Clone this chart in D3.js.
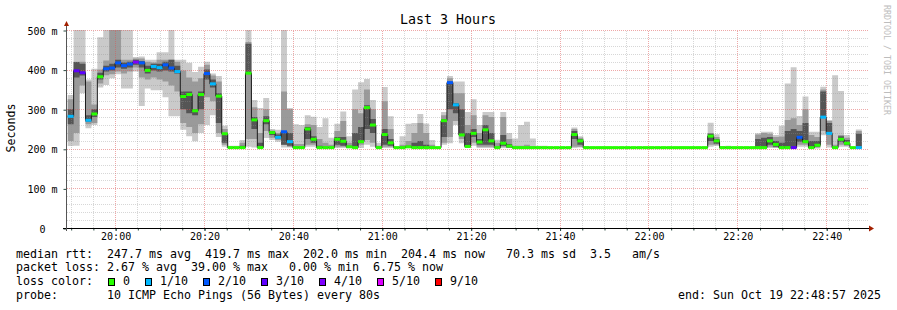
<!DOCTYPE html>
<html>
<head>
<meta charset="utf-8">
<script src="https://cdn.jsdelivr.net/npm/d3@7"></script>
<style>
  body { margin: 0; background: #fff; }
  text { font-family: "DejaVu Sans Mono", monospace; white-space: pre; }
</style>
</head>
<body>
<script>
// time frame of the graph and the 80 s steps of the probe
var graphStart = new Date(2025, 9, 19, 19, 48, 57);
var graphEnd = new Date(2025, 9, 19, 22, 48, 57);
var firstSample = new Date(2025, 9, 19, 19, 49, 20);
var stepSec = 80;

// median rtt per step (ms)
var median = [
  282,397,392,272,288,382,402,404,417,410,
  414,419,417,398,408,405,412,404,395,332,
  337,296,337,390,364,333,238,203,203,203,
  391,273,203,271,241,229,243,218,203,203,
  250,224,203,203,203,224,219,205,203,218,
  304,260,203,236,215,203,203,205,203,203,
  203,203,203,271,367,311,235,206,239,217,
  248,220,203,214,207,203,203,203,203,203,
  203,203,203,203,203,236,220,203,203,203,
  203,203,203,203,203,203,203,203,203,203,
  203,203,203,203,203,203,203,203,232,220,
  203,203,203,203,203,203,203,203,220,211,
  203,203,203,229,218,203,209,280,239,203,
  224,214,203,203
];
// lost pings out of 10 per step
var loss = [
  1,3,3,1,0,0,2,2,2,2,
  2,4,2,0,1,1,2,2,1,0,
  0,0,0,2,1,0,0,0,0,0,
  0,0,0,0,0,1,2,1,0,0,
  0,0,0,0,0,0,0,0,0,0,
  0,0,0,0,0,0,0,0,0,0,
  0,0,0,0,2,1,0,0,0,0,
  0,0,0,0,0,0,0,0,0,0,
  0,0,0,0,0,0,0,0,0,0,
  0,0,0,0,0,0,0,0,0,0,
  0,0,0,0,0,0,0,0,0,0,
  0,0,0,0,0,0,0,0,0,0,
  0,0,3,2,0,0,0,1,1,0,
  0,0,0,1
];
// smoke: outer band (all pings)
var lo1 = [
  207,208,340,252,260,355,361,378,388,352,
  352,395,308,352,348,348,330,282,282,248,
  232,219,240,260,285,230,205,202,202,202,
  205,203,203,227,222,218,203,203,202,202,
  205,205,202,202,202,202,202,202,202,202,
  210,205,202,202,202,202,202,202,202,202,
  202,202,202,210,214,260,214,202,208,202,
  202,202,202,202,202,202,202,202,202,202,
  202,202,202,202,202,202,203,202,202,202,
  202,202,202,202,202,202,202,202,202,202,
  202,202,202,202,202,202,202,202,205,207,
  201,201,202,202,202,202,201,201,202,202,
  201,201,201,205,205,201,201,234,203,201,
  205,205,201,201
];
var hi1 = [
  336,500,500,375,402,482,500,500,500,500,
  500,432,433,425,425,444,444,500,425,425,
  417,394,407,420,390,384,258,208,208,222,
  500,323,303,328,250,248,500,303,262,260,
  285,281,255,277,228,263,294,232,350,368,
  376,323,215,356,282,205,232,263,265,288,
  264,222,205,293,384,370,370,293,325,260,
  293,293,223,293,240,226,260,268,226,208,
  208,204,203,203,203,254,232,207,203,203,
  203,203,203,203,203,203,205,205,205,203,
  203,203,203,205,203,203,203,203,266,237,
  207,208,203,203,203,203,239,243,243,235,
  258,365,406,283,332,243,243,357,273,386,
  346,235,204,249
];
// smoke: middle band
var lo2 = [
  220,240,360,262,265,365,386,388,395,390,
  395,405,380,375,380,375,370,360,345,265,
  255,240,262,330,320,240,210,202,202,205,
  225,225,208,245,228,222,210,205,202,202,
  210,210,203,202,202,205,205,202,205,210,
  222,215,202,205,205,202,202,202,203,205,
  203,202,202,215,230,270,225,203,215,205,
  205,205,202,205,203,202,202,202,202,202,
  202,202,202,202,202,205,205,202,202,202,
  202,202,202,202,202,202,202,202,202,202,
  202,202,202,202,202,202,202,202,210,210,
  202,202,202,202,202,202,201,202,205,203,
  202,202,202,210,210,202,203,245,210,201,
  210,208,202,203
];
var hi2 = [
  325,420,420,370,312,400,423,500,500,425,
  425,428,428,420,418,425,425,425,420,398,
  380,370,378,412,385,370,250,205,205,215,
  470,305,240,300,246,240,345,300,212,212,
  262,260,225,215,210,245,270,215,300,290,
  350,300,208,320,250,204,210,220,240,265,
  240,210,204,285,378,340,340,260,285,240,
  285,280,215,280,225,208,208,210,206,205,
  205,203,203,203,203,250,228,205,203,203,
  203,203,203,203,203,203,204,204,204,203,
  203,203,203,204,203,203,203,203,240,230,
  205,205,203,203,203,203,236,240,238,230,
  231,273,277,260,300,235,230,350,270,210,
  235,228,203,245
];
// smoke: inner band around the median
var lo3 = [
  262,380,385,268,280,375,395,398,405,402,
  405,412,405,390,398,395,398,395,390,300,
  290,285,300,375,355,265,215,202,202,203,
  391,250,205,262,235,226,210,208,202,202,
  225,215,202,202,202,210,208,202,205,215,
  250,240,202,210,208,202,202,202,203,205,
  202,202,202,230,300,290,235,205,230,210,
  210,210,202,208,203,202,202,202,202,202,
  202,202,202,202,202,225,210,202,202,202,
  202,202,202,202,202,202,202,202,202,202,
  202,202,202,202,202,202,202,202,220,213,
  202,202,202,202,202,202,202,202,210,205,
  202,202,202,218,215,202,205,282,240,202,
  218,210,202,205
];
var hi3 = [
  300,419,415,285,300,392,410,415,425,418,
  420,425,422,410,415,415,420,425,410,345,
  345,300,345,400,375,340,240,204,204,208,
  465,280,215,282,245,236,245,240,205,205,
  255,232,208,205,204,230,230,208,240,255,
  310,275,205,250,225,203,205,208,215,220,
  210,205,203,275,370,315,300,240,250,225,
  260,240,205,235,212,204,204,204,204,203,
  203,203,203,203,203,245,225,204,203,203,
  203,203,203,203,203,203,203,203,203,203,
  203,203,203,203,203,203,203,203,238,225,
  204,204,203,203,203,203,225,228,230,220,
  215,245,250,245,265,220,220,345,265,205,
  232,222,203,238
];

var yTicks = [0, 100, 200, 300, 400, 500];
var lossLevels = [0, 1, 2, 3, 4, 5, 9];
var lossLabels = ["0", "1/10", "2/10", "3/10", "4/10", "5/10", "9/10"];
var lossColors = ["#26ff00", "#00b8ff", "#0059ff", "#5e00ff", "#7e00ff", "#dd00ff", "#ff0000"];
var smokeColors = ["#cacaca", "#9a9a9a", "#555555"];

var legendLines = [
  "median rtt:  247.7 ms avg  419.7 ms max  202.0 ms min  204.4 ms now   70.3 ms sd  3.5   am/s",
  "packet loss: 2.67 % avg  39.00 % max   0.00 % min  6.75 % now",
  "loss color:",
  "probe:       10 ICMP Echo Pings (56 Bytes) every 80s"
];
var titleText = "Last 3 Hours";
var yLabel = "Seconds";
var endText = "end: Sun Oct 19 22:48:57 2025";
var watermark = "RRDTOOL / TOBI OETIKER";

var width = 897, height = 310;
var svg = d3.select("body").append("svg").attr("width", width).attr("height", height);

var x = d3.scaleTime().domain([graphStart, graphEnd]).range([66, 866]);
var y = d3.scaleLinear().domain([0, 500]).range([228, 30]);
var crisp = function(v) { return Math.round(v) + 0.5; };

// bygg punkter, en extra på slutet så att sista steget syns
var pts = median.map(function(m, i) {
  return { t: new Date(firstSample.getTime() + i * stepSec * 1000), med: m, loss: loss[i],
           b: [[lo1[i], hi1[i]], [lo2[i], hi2[i]], [lo3[i], hi3[i]]] };
});
var last = pts[pts.length - 1];
pts.push({ t: new Date(last.t.getTime() + stepSec * 1000), med: last.med, loss: last.loss, b: last.b });

// smoke
smokeColors.forEach(function(c, k) {
  var area = d3.area().curve(d3.curveStepAfter)
    .x(function(d) { return x(d.t); })
    .y0(function(d) { return y(d.b[k][0]); })
    .y1(function(d) { return y(d.b[k][1]); });
  svg.append("path").attr("d", area(pts)).attr("fill", c);
});

// grid (rrdtool ritar det ovanpå, halvgenomskinligt)
var minorCol = "rgba(143,143,143,0.36)", majorCol = "rgba(222,81,81,0.5)";
var grid = svg.append("g");
var minorTimes = d3.timeMinute.every(5).range(graphStart, graphEnd);
minorTimes.forEach(function(t) {
  var major = t.getMinutes() % 20 === 0;
  grid.append("line")
    .attr("x1", crisp(x(t))).attr("x2", crisp(x(t)))
    .attr("y1", 228).attr("y2", 30)
    .attr("stroke", major ? majorCol : minorCol)
    .attr("stroke-dasharray", "1,1");
});
d3.range(20, 501, 20).forEach(function(v) {
  var major = v % 100 === 0;
  grid.append("line")
    .attr("x1", 67).attr("x2", 869)
    .attr("y1", crisp(y(v))).attr("y2", crisp(y(v)))
    .attr("stroke", major ? majorCol : minorCol)
    .attr("stroke-dasharray", "1,1");
});

// median line, black first then loss coloured steps
var medLine = d3.line().curve(d3.curveStepAfter)
  .x(function(d) { return x(d.t); })
  .y(function(d) { return y(d.med); });
svg.append("path").attr("d", medLine(pts)).attr("fill", "none")
  .attr("stroke", "#1a1a1a").attr("stroke-width", 1);
svg.append("g").selectAll("line").data(pts.slice(0, -1)).enter().append("line")
  .attr("x1", function(d) { return x(d.t); })
  .attr("x2", function(d, i) { return x(pts[i + 1].t); })
  .attr("y1", function(d) { return y(d.med); })
  .attr("y2", function(d) { return y(d.med); })
  .attr("stroke", function(d) { return lossColors[lossLevels.indexOf(d.loss)]; })
  .attr("stroke-width", 3);

// axes
var xMinor = d3.axisBottom(x).ticks(d3.timeMinute.every(5)).tickSize(2).tickFormat("");
svg.append("g").attr("transform", "translate(0.5,228.5)").call(xMinor)
  .call(function(g) { g.select(".domain").remove(); g.selectAll("line").attr("stroke", "#2c4d43"); });
var xAxis = d3.axisBottom(x).ticks(d3.timeMinute.every(20)).tickSize(3)
  .tickFormat(d3.timeFormat("%H:%M"));
svg.append("g").attr("transform", "translate(0.5,228)").call(xAxis)
  .call(function(g) {
    g.select(".domain").remove();
    g.selectAll("line").attr("stroke", "#2c4d43");
    g.selectAll("text").attr("y", 11.5).attr("dy", null)
      .attr("font-family", "DejaVu Sans Mono").attr("font-size", "10px").attr("fill", "#000");
  });
var yAxis = d3.axisLeft(y).tickValues(yTicks).tickSize(3).tickPadding(6)
  .tickFormat(function(v) { return v === 0 ? "0\u00a0\u00a0" : v + " m"; });
svg.append("g").attr("transform", "translate(66.5,0.5)").call(yAxis)
  .call(function(g) {
    g.select(".domain").remove();
    g.selectAll("line").attr("stroke", "#2c4d43");
    g.selectAll("text").attr("dy", "3.5")
      .attr("font-family", "DejaVu Sans Mono").attr("font-size", "10px").attr("fill", "#000");
  });

svg.append("line").attr("x1", 63).attr("x2", 870).attr("y1", 228.5).attr("y2", 228.5)
  .attr("stroke", "#000");
svg.append("line").attr("x1", 66.5).attr("x2", 66.5).attr("y1", 231).attr("y2", 25)
  .attr("stroke", "#555");
svg.append("path").attr("d", "M869,225.5L874,228.5L869,231.5Z").attr("fill", "#a32001");
svg.append("path").attr("d", "M64,26L69,26L66.5,21Z").attr("fill", "#a32001");

// texts
svg.append("text").attr("x", 448).attr("y", 24).attr("text-anchor", "middle")
  .attr("font-size", "13.3px").text(titleText);
svg.append("text").attr("transform", "translate(15,128) rotate(-90)")
  .attr("text-anchor", "middle").attr("font-size", "11.6px").text(yLabel);
svg.append("text").attr("transform", "translate(884,5) rotate(90)")
  .attr("font-size", "8.3px").attr("fill", "#bdbdbd").text(watermark);

var legendY = [257.5, 271.3, 285.1, 298.9];
legendLines.forEach(function(s, i) {
  svg.append("text").attr("x", 16).attr("y", legendY[i]).attr("font-size", "11.63px").text(s);
});
svg.append("text").attr("x", 678).attr("y", legendY[3]).attr("font-size", "11.63px").text(endText);

// loss colour boxes
var bx = 108;
lossLabels.forEach(function(lbl, i) {
  svg.append("rect").attr("x", bx + 0.5).attr("y", 278.5).attr("width", 6).attr("height", 7)
    .attr("fill", lossColors[i]).attr("stroke", "#000");
  svg.append("text").attr("x", bx + 15).attr("y", legendY[2]).attr("font-size", "11.63px").text(lbl);
  bx = bx + 15 + lbl.length * 7 + 15;
});
</script>
</body>
</html>
